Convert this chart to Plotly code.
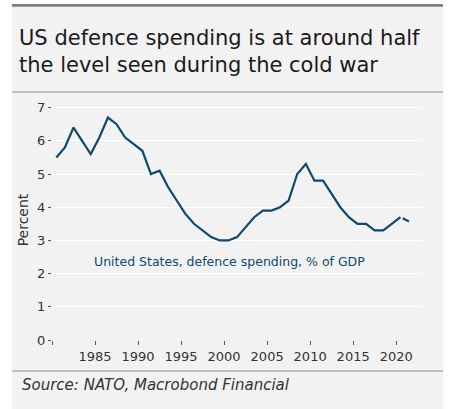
import plotly.graph_objects as go

# US defence spending, % of GDP (NATO), annual
years = [str(y) for y in range(1980, 2021)]
spending = [5.5, 5.8, 6.4, 6.0, 5.6, 6.1, 6.7, 6.5, 6.1, 5.9,
            5.7, 5.0, 5.1, 4.6, 4.2, 3.8, 3.5, 3.3, 3.1, 3.0,
            3.0, 3.1, 3.4, 3.7, 3.9, 3.9, 4.0, 4.2, 5.0, 5.3,
            4.8, 4.8, 4.4, 4.0, 3.7, 3.5, 3.5, 3.3, 3.3, 3.5,
            3.7]
# latest year is an estimate
est_years = ["2020", "2021"]
est_spending = [3.7, 3.57]

tick_years = [1980, 1985, 1990, 1995, 2000, 2005, 2010, 2015, 2020]
tick_labels = ["", "1985", "1990", "1995", "2000", "2005", "2010", "2015", "2020"]

W, H = 449, 409
L, R, T, B = 52, 27, 100, 69
PW, PH = W - L - R, H - T - B

NAVY = "#0f4a6e"
PANEL = "#f2f2f2"
TEXT = "#333333"
FONT = "DejaVu Sans"


def px(x):
    return (x - L) / PW


def py(y):
    return 1 - (y - T) / PH


fig = go.Figure()
fig.add_trace(go.Scatter(
    x=years, y=spending, mode="lines",
    xperiod="M12", xperiodalignment="middle",
    line=dict(color=NAVY, width=2.2), hoverinfo="skip", showlegend=False,
))
fig.add_trace(go.Scatter(
    x=est_years, y=est_spending, mode="lines",
    xperiod="M12", xperiodalignment="middle",
    line=dict(color=NAVY, width=2.2, dash="0px,2.5px,7px,3px"),
    hoverinfo="skip", showlegend=False,
))

fig.add_annotation(
    x="2000-09-01", y=2.35, xref="x", yref="y",
    text="United States, defence spending, % of GDP",
    showarrow=False, font=dict(family=FONT, size=12.5, color=NAVY),
)

shapes = [
    # card background
    dict(type="rect", xref="paper", yref="paper", layer="below",
         x0=px(12), x1=px(443), y0=py(H + 5), y1=py(4),
         fillcolor=PANEL, line=dict(width=0)),
    # heavy rule on top
    dict(type="rect", xref="paper", yref="paper", layer="below",
         x0=px(12), x1=px(443), y0=py(6.8), y1=py(4),
         fillcolor="#7f7f7f", line=dict(width=0)),
    # rule below the headline
    dict(type="line", xref="paper", yref="paper", layer="below",
         x0=px(12), x1=px(443), y0=py(92), y1=py(92),
         line=dict(color="#8c8c8c", width=1)),
    # rule above the source line
    dict(type="line", xref="paper", yref="paper", layer="below",
         x0=px(12), x1=px(443), y0=py(371), y1=py(371),
         line=dict(color="#8c8c8c", width=1)),
]

fig.add_annotation(
    x=px(20), y=py(385), xref="paper", yref="paper",
    xanchor="left", yanchor="middle", showarrow=False,
    text="<i>Source: NATO, Macrobond Financial</i>",
    font=dict(family=FONT, size=15, color=TEXT),
)

fig.update_layout(
    width=W, height=H,
    margin=dict(l=L, r=R, t=T, b=B, autoexpand=False),
    paper_bgcolor="white", plot_bgcolor="rgba(0,0,0,0)",
    shapes=shapes,
    title=dict(
        text="US defence spending is at around half<br>the level seen during the cold war",
        x=19 / W, xanchor="left", xref="container",
        y=1 - 45 / H, yanchor="top", yref="container",
        font=dict(family=FONT, size=21, color="#1a1a1a"),
    ),
    xaxis=dict(
        type="date", range=["1980-01-01", "2023-01-01"],
        tickvals=[f"{y}-01-01" for y in tick_years], ticktext=tick_labels,
        showgrid=False, zeroline=False, showline=False,
        ticks="outside", ticklen=4, tickcolor="#555555", tickwidth=1,
        tickfont=dict(family=FONT, size=13, color=TEXT),
    ),
    yaxis=dict(
        range=[0, 7.23], tickvals=[0, 1, 2, 3, 4, 5, 6, 7],
        showgrid=True, gridcolor="white", gridwidth=1.2,
        zeroline=False, showline=False,
        ticks="outside", ticklen=3, tickcolor="#555555", tickwidth=1,
        tickfont=dict(family=FONT, size=13, color=TEXT),
        title=dict(text="Percent", standoff=5,
                   font=dict(family=FONT, size=14, color=TEXT)),
    ),
)

fig.write_html("out.html")
